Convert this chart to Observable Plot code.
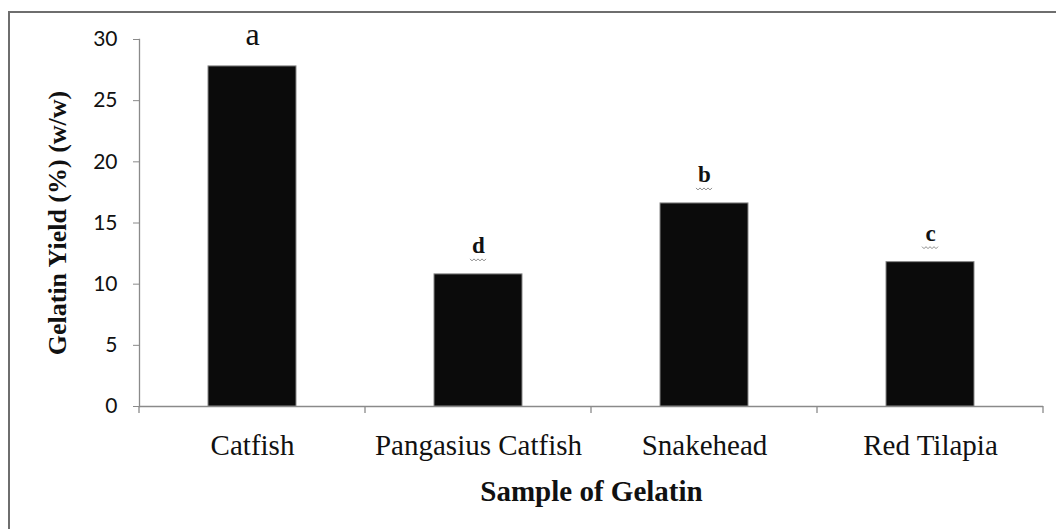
<!DOCTYPE html>
<html>
<head>
<meta charset="utf-8">
<script src="https://cdn.jsdelivr.net/npm/d3@7"></script>
<script src="https://cdn.jsdelivr.net/npm/@observablehq/plot@0.6"></script>
<style>
  html, body { margin: 0; padding: 0; background: #fff; overflow: hidden; }
  #wrap { position: relative; width: 1056px; height: 529px; }
  #frame { position: absolute; left: 8px; top: 11px; width: 1100px; height: 600px;
           border-left: 2px solid #6e6e6e; border-top: 2px solid #6e6e6e; box-sizing: border-box; pointer-events: none; }
  .serif text, text.serif { font-family: "Liberation Serif", "Times New Roman", serif !important; }
</style>
</head>
<body>
<div id="wrap"><div id="frame"></div></div>
<script>
const categories = ["Catfish", "Pangasius Catfish", "Snakehead", "Red Tilapia"];
const yields = [27.8, 10.8, 16.6, 11.8];
const letters = ["a", "d", "b", "c"];
const yTicks = [0, 5, 10, 15, 20, 25, 30];
const yTitle = "Gelatin Yield (%) (w/w)";
const xTitle = "Sample of Gelatin";

const data = categories.map((c, i) => ({sample: c, value: yields[i], letter: letters[i]}));

const boundaryTicks = (index, scales, values, dimensions) => {
  const x = scales.x, y = scales.y;
  const step = x(categories[1]) - x(categories[0]);
  const off = x(categories[0]) - dimensions.marginLeft;
  const xs = categories.map(c => x(c) - off);
  xs.push(xs[xs.length - 1] + step);
  const g = d3.create("svg:g").attr("stroke", "#8a8a8a").attr("stroke-width", 1.3);
  const y0 = y(0);
  for (const xx of xs) g.append("line").attr("x1", xx).attr("x2", xx).attr("y1", y0).attr("y2", y0 + 7);
  return g.node();
};

// small wavy "spell-check" squiggles under the b, c, d letters
const squiggles = (index, scales, values, dimensions) => {
  const x = scales.x, y = scales.y;
  const step = x(categories[1]) - x(categories[0]);
  const off = x(categories[0]) - dimensions.marginLeft;
  const g = d3.create("svg:g").attr("fill", "none").attr("stroke", "#8c8c8c").attr("stroke-width", 1);
  for (const d of data) {
    if (d.letter === "a") continue;
    const cx = x(d.sample) - off + step / 2;
    const cy = y(d.value) - 15;
    let p = `M${cx - 8},${cy}`;
    for (let k = 0; k < 8; k++) p += ` l2,${k % 2 ? -2 : 2}`;
    g.append("path").attr("d", p);
  }
  return g.node();
};

const serif = "Liberation Serif";

const chart = Plot.plot({
  width: 1056,
  height: 529,
  marginLeft: 139,
  marginRight: 13,
  marginTop: 39,
  marginBottom: 123,
  style: {background: "transparent", overflow: "visible"},
  x: {domain: categories, paddingInner: 0.61, paddingOuter: 0.305, label: null},
  y: {domain: [0, 30], label: null},
  marks: [
    Plot.axisY({ticks: yTicks, tickSize: 6, tickPadding: 16, stroke: "#8a8a8a", fill: "#111",
                fontSize: 21, fontFamily: "Lato", label: null}),
    Plot.axisX({tickSize: 0, tickPadding: 28, fontSize: 29, fontFamily: serif, fill: "#111", label: null, className: "serif"}),
    Plot.frame({anchor: "left", stroke: "#8a8a8a", strokeWidth: 1.3}),
    Plot.ruleY([0], {stroke: "#8a8a8a", strokeWidth: 1.3}),
    boundaryTicks,
    Plot.barY(data, {x: "sample", y: "value", fill: "#0b0b0b", stroke: "#888", strokeWidth: 1}),
    Plot.text(data.filter(d => d.letter === "a"), {x: "sample", y: "value", text: "letter", dy: -21,
              lineAnchor: "bottom", fontSize: 32, fontFamily: serif, fill: "#111", className: "serif"}),
    Plot.text(data.filter(d => d.letter !== "a"), {x: "sample", y: "value", text: "letter", dy: -21,
              lineAnchor: "bottom", fontSize: 23, fontWeight: "bold", fontFamily: serif, fill: "#111", className: "serif"}),
    squiggles,
    Plot.text([yTitle], {frameAnchor: "left", dx: -82, rotate: -90, textAnchor: "middle", lineAnchor: "middle",
              text: d => d, fontSize: 26, fontWeight: "bold", fontFamily: serif, fill: "#111", className: "serif"}),
    Plot.text([xTitle], {frameAnchor: "bottom", dy: 94, textAnchor: "middle", text: d => d, fontSize: 29,
              fontWeight: "bold", fontFamily: serif, fill: "#111", className: "serif"})
  ]
});
document.getElementById("wrap").prepend(chart);
</script>
</body>
</html>
